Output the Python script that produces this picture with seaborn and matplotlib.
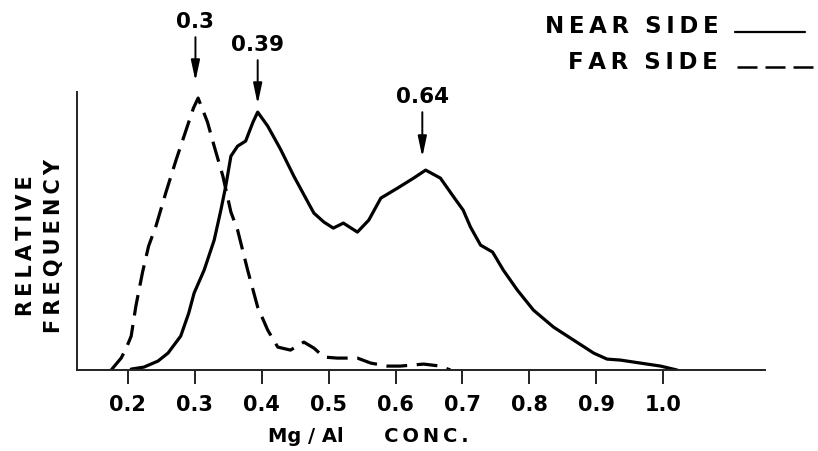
import numpy as np
import pandas as pd
import matplotlib
matplotlib.use('Agg')
import matplotlib.pyplot as plt
from matplotlib.lines import Line2D
import seaborn as sns

# Mg/Al concentration vs relative frequency
near_x = [0.205, 0.224, 0.245, 0.260, 0.279, 0.291, 0.299, 0.314, 0.329, 0.339, 0.346,
          0.354, 0.364, 0.376, 0.387, 0.394, 0.409, 0.428, 0.448, 0.469, 0.478, 0.493,
          0.507, 0.522, 0.543, 0.560, 0.578, 0.603, 0.627, 0.645, 0.667, 0.687, 0.701,
          0.712, 0.727, 0.745, 0.761, 0.782, 0.806, 0.836, 0.866, 0.896, 0.916, 0.936,
          0.966, 0.996, 1.021]
near_y = [1, 3, 9, 17, 34, 57, 77, 100, 130, 160, 183,
          214, 224, 229, 248, 258, 244, 221, 194, 168, 157, 148,
          142, 147, 138, 150, 172, 182, 192, 200, 192, 173, 160,
          143, 125, 118, 100, 80, 60, 43, 30, 17, 11, 10,
          7, 4, 0]

far_x = [0.175, 0.190, 0.197, 0.205, 0.212, 0.222, 0.231, 0.242, 0.257, 0.272, 0.287,
         0.298, 0.305, 0.319, 0.329, 0.342, 0.354, 0.364, 0.379, 0.394, 0.409, 0.424,
         0.443, 0.463, 0.478, 0.493, 0.513, 0.543, 0.563, 0.588, 0.607, 0.642, 0.667,
         0.682]
far_y = [0, 12, 21, 34, 64, 98, 124, 144, 178, 210, 240,
         262, 272, 248, 224, 194, 158, 140, 100, 63, 40, 23,
         20, 28, 22, 13, 12, 12, 7, 4, 4, 6, 4,
         0]

peak_labels = ['0.3', '0.39', '0.64']
peak_x = [0.301, 0.394, 0.640]
peak_tip = [289, 266, 213]
peak_text = [349, 326, 274]

tick_vals = [0.2, 0.3, 0.4, 0.5, 0.6, 0.7, 0.8, 0.9, 1.0]


def spaced(s):
    # thin spaces between letters, like the old stencil lettering
    return '\u2009'.join(s)


sns.set_theme(style='white')
plt.rcParams['font.family'] = ['DejaVu Sans']
plt.rcParams['font.weight'] = 'bold'
plt.rcParams['text.color'] = 'black'
plt.rcParams['axes.labelcolor'] = 'black'
plt.rcParams['xtick.color'] = 'black'

fig = plt.figure(figsize=(8.18, 4.52), dpi=100)
ax = fig.add_axes([0.0941, 0.179, 0.8411, 0.615])

near = pd.DataFrame({'x': near_x, 'y': near_y})
far = pd.DataFrame({'x': far_x, 'y': far_y})
sns.lineplot(data=near, x='x', y='y', ax=ax, color='black', lw=2.3, sort=False)
sns.lineplot(data=far, x='x', y='y', ax=ax, color='black', lw=2.3, sort=False,
             dashes=False, linestyle=(0, (6.5, 3.0)))
for line in ax.lines:
    line.set_solid_capstyle('round')
    line.set_solid_joinstyle('round')

ax.set_xlim(0.124, 1.152)
ax.set_ylim(0, 278)
sns.despine(ax=ax)
for side in ['left', 'bottom']:
    ax.spines[side].set_linewidth(1.4)
    ax.spines[side].set_color('#222222')
ax.set_yticks([])
ax.set_xticks(tick_vals)
ax.set_xticklabels(['%.1f' % v for v in tick_vals], fontsize=15, fontweight='bold')
ax.tick_params(axis='x', direction='out', length=10, width=1.4, pad=7,
               bottom=True, color='#222222')

ax.set_xlabel('Mg / Al      ' + spaced('CONC.'), fontsize=14, fontweight='bold',
              x=0.424, labelpad=9)
ax.set_ylabel(spaced('RELATIVE') + '\n' + spaced('FREQUENCY'), fontsize=15,
              fontweight='bold', y=0.45, labelpad=9, linespacing=1.5)

for lab, px, tip, ty in zip(peak_labels, peak_x, peak_tip, peak_text):
    ax.annotate(lab, xy=(px, tip), xytext=(px, ty), ha='center', va='center',
                fontsize=15.5, fontweight='bold', annotation_clip=False,
                arrowprops=dict(arrowstyle='-|>,head_length=0.8,head_width=0.17',
                                color='black', lw=1.4, shrinkA=2, shrinkB=0))

# legend: text on the left, line sample on the right
fig.text(0.878, 0.941, spaced('NEAR') + '  ' + spaced('SIDE'), ha='right', va='center',
         fontsize=16.5, fontweight='bold')
fig.text(0.878, 0.862, spaced('FAR') + '  ' + spaced('SIDE'), ha='right', va='center',
         fontsize=16.5, fontweight='bold')
fig.add_artist(Line2D([0.8985, 0.984], [0.927, 0.927], color='black', lw=1.6,
                      transform=fig.transFigure))
fig.add_artist(Line2D([0.901, 1.0], [0.850, 0.850], color='black', lw=1.8,
                      linestyle=(0, (8, 3.2)), transform=fig.transFigure))

fig.savefig('out.png', dpi=100, facecolor='white')
